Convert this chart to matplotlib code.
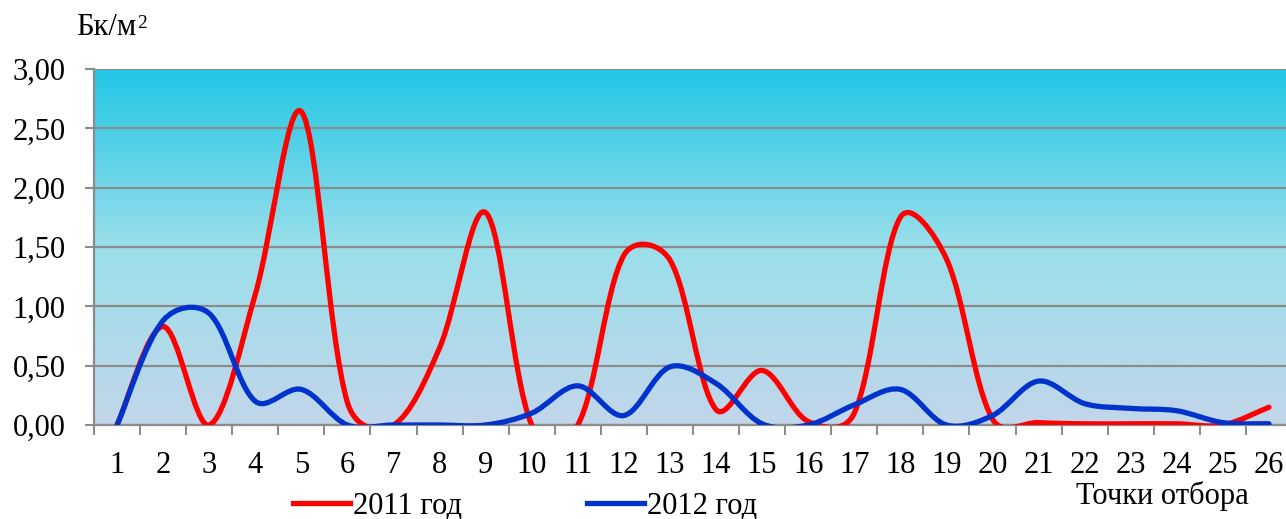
import matplotlib.pyplot as plt
import numpy as np
from matplotlib.path import Path
from matplotlib.patches import PathPatch
from matplotlib.colors import LinearSegmentedColormap

plt.rcParams['font.family'] = ['Liberation Serif', 'DejaVu Serif']

points = np.arange(1, 27)
y2011 = [0, 0.83, 0, 1.1, 2.64, 0.19, 0, 0.65, 1.79, 0, 0, 1.43, 1.39, 0.13, 0.46,
         0.03, 0.1, 1.75, 1.40, 0.05, 0.02, 0.01, 0.01, 0.01, 0, 0.15]
y2012 = [0, 0.88, 0.94, 0.2, 0.3, 0, 0, 0, 0, 0.1, 0.33, 0.08, 0.49, 0.35, 0.01,
         0, 0.17, 0.3, 0, 0.08, 0.37, 0.18, 0.14, 0.12, 0.02, 0.01]
yticks = [0, 0.5, 1.0, 1.5, 2.0, 2.5, 3.0]

PX_X, PX_Y = 46.1, 118.7  # pixels per data unit, used for segment lengths


def smooth_path(x, y):
    # Excel-like smoothed line: Catmull-Rom handles, shortened next to short segments
    p = np.column_stack([x, y]).astype(float)
    s = np.array([PX_X, PX_Y])
    n = len(p)
    seg = np.hypot(*((np.diff(p, axis=0)) * s).T)
    c_out, c_in = [], []
    for i in range(n):
        d = p[min(i + 1, n - 1)] - p[max(i - 1, 0)]
        l_in = seg[i - 1] if i > 0 else 0.0
        l_out = seg[i] if i < n - 1 else 0.0
        tot = l_in + l_out if l_in + l_out > 0 else 1.0
        c_out.append(p[i] + d / 6 * np.sqrt(2 * l_out / tot))
        c_in.append(p[i] - d / 6 * np.sqrt(2 * l_in / tot))
    verts = [p[0]]
    codes = [Path.MOVETO]
    for i in range(n - 1):
        verts += [c_out[i], c_in[i + 1], p[i + 1]]
        codes += [Path.CURVE4] * 3
    return Path(verts, codes)


fig = plt.figure(figsize=(12.86, 5.19), dpi=100)
ax = fig.add_axes([94 / 1286, 94 / 519, 1198 / 1286, 356 / 519])

cmap = LinearSegmentedColormap.from_list('bg', ['#c2d6ea', '#9adfea', '#22c7e6'])
grad = np.linspace(0, 1, 256).reshape(-1, 1)
ax.imshow(grad, cmap=cmap, origin='lower', aspect='auto',
          extent=[0.5, 26.5, 0, 3], zorder=0)

for yv in yticks:
    ax.axhline(yv, color='#8c8c8c', lw=1.6, zorder=1)

for ys, col in [(y2011, '#ff0000'), (y2012, '#0033cc')]:
    patch = PathPatch(smooth_path(points, ys), facecolor='none', edgecolor=col,
                      lw=3.8, capstyle='round', joinstyle='round', zorder=3)
    ax.add_patch(patch)

ax.set_xlim(0.5, 26.5)
ax.set_ylim(0, 3)
ax.set_xticks(points)
ax.set_xticklabels([str(p) for p in points])
ax.set_xticks(np.arange(0.5, 27, 1), minor=True)
ax.tick_params(axis='x', which='major', length=0, pad=19, labelsize=22)
ax.tick_params(axis='x', which='minor', length=7, width=1.5, color='#8c8c8c')
ax.set_yticks(yticks)
ax.set_yticklabels([f'{v:.2f}'.replace('.', ',') for v in yticks])
ax.tick_params(axis='y', length=6.5, width=1.5, color='#8c8c8c', pad=14, labelsize=22)

for s in ['top', 'right']:
    ax.spines[s].set_visible(False)
for s in ['left', 'bottom']:
    ax.spines[s].set_color('#8c8c8c')
    ax.spines[s].set_linewidth(1.6)

fig.text(76 / 1286, 1 - 35 / 519, 'Бк/м', fontsize=22, va='baseline', ha='left')
fig.text(137 / 1286, 1 - 28 / 519, '2', fontsize=14, va='baseline', ha='left')
fig.text(1162 / 1286, 1 - 496 / 519, 'Точки отбора', fontsize=22, va='center', ha='center')

h1, = ax.plot([], [], color='#ff0000', lw=3.8)
h2, = ax.plot([], [], color='#0033cc', lw=3.8)
fig.legend([h1, h2], ['2011 год', '2012 год'], loc='center',
           bbox_to_anchor=(525 / 1286, 1 - 506 / 519), ncol=2, frameon=False,
           fontsize=22, handlelength=1.85, handletextpad=0.1, columnspacing=4.1,
           borderpad=0)

fig.savefig('out.png', dpi=100)
